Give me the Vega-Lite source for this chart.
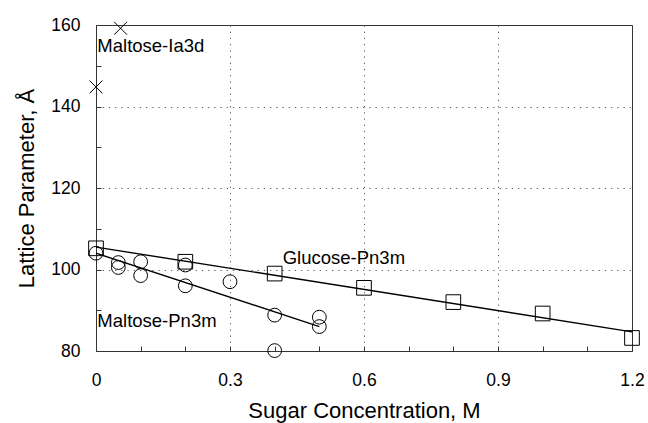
{
  "$schema": "https://vega.github.io/schema/vega-lite/v6.json",
  "width": 536,
  "height": 326,
  "autosize": "none",
  "padding": {"left": 96, "top": 25, "right": 16, "bottom": 72},
  "background": "white",
  "config": {
    "view": {"stroke": "#333", "strokeWidth": 1},
    "font": "Liberation Sans",
    "axis": {
      "labelFont": "Liberation Sans",
      "titleFont": "Liberation Sans",
      "labelFontSize": 17.5,
      "titleFontSize": 22,
      "titleFontWeight": "normal",
      "labelColor": "black",
      "titleColor": "black",
      "domainColor": "#333",
      "tickColor": "#333",
      "gridColor": "#555",
      "gridDash": [1.2, 5],
      "gridWidth": 1
    }
  },
  "datasets": {
    "points": [
      {"series": "Glucose-Pn3m", "conc": 0.0, "lattice": 105.2},
      {"series": "Glucose-Pn3m", "conc": 0.2, "lattice": 101.9},
      {"series": "Glucose-Pn3m", "conc": 0.4, "lattice": 99.0},
      {"series": "Glucose-Pn3m", "conc": 0.6, "lattice": 95.5},
      {"series": "Glucose-Pn3m", "conc": 0.8, "lattice": 92.0},
      {"series": "Glucose-Pn3m", "conc": 1.0, "lattice": 89.2},
      {"series": "Glucose-Pn3m", "conc": 1.2, "lattice": 83.2},
      {"series": "Maltose-Pn3m", "conc": 0.0, "lattice": 104.0},
      {"series": "Maltose-Pn3m", "conc": 0.05, "lattice": 101.7},
      {"series": "Maltose-Pn3m", "conc": 0.05, "lattice": 100.5},
      {"series": "Maltose-Pn3m", "conc": 0.1, "lattice": 101.9},
      {"series": "Maltose-Pn3m", "conc": 0.1, "lattice": 98.5},
      {"series": "Maltose-Pn3m", "conc": 0.2, "lattice": 101.1},
      {"series": "Maltose-Pn3m", "conc": 0.2, "lattice": 96.0},
      {"series": "Maltose-Pn3m", "conc": 0.3, "lattice": 97.0},
      {"series": "Maltose-Pn3m", "conc": 0.4, "lattice": 88.8},
      {"series": "Maltose-Pn3m", "conc": 0.5, "lattice": 88.3},
      {"series": "Maltose-Pn3m", "conc": 0.5, "lattice": 86.0},
      {"series": "Maltose-Pn3m", "conc": 0.4, "lattice": 80.1},
      {"series": "Maltose-Ia3d", "conc": 0.0, "lattice": 144.8},
      {"series": "Maltose-Ia3d", "conc": 0.055, "lattice": 159.2}
    ],
    "fits": [
      {"series": "Glucose-Pn3m", "conc": 0.0, "lattice": 105.5},
      {"series": "Glucose-Pn3m", "conc": 1.2, "lattice": 84.7},
      {"series": "Maltose-Pn3m", "conc": 0.0, "lattice": 104.0},
      {"series": "Maltose-Pn3m", "conc": 0.5, "lattice": 86.0}
    ],
    "labels": [
      {"text": "Maltose-Ia3d", "conc": 0.003, "lattice": 154.9},
      {"text": "Glucose-Pn3m", "conc": 0.418, "lattice": 102.8},
      {"text": "Maltose-Pn3m", "conc": 0.003, "lattice": 87.4}
    ]
  },
  "encoding": {
    "x": {
      "field": "conc",
      "type": "quantitative",
      "scale": {"domain": [0, 1.2], "nice": false, "zero": false},
      "axis": {
        "title": "Sugar Concentration, M",
        "values": [0, 0.1, 0.2, 0.3, 0.4, 0.5, 0.6, 0.7, 0.8, 0.9, 1.0, 1.1, 1.2],
        "labelExpr": "round(datum.value*10)%3===0 ? format(datum.value,'~g') : ''",
        "grid": true,
        "gridOpacity": {"condition": {"test": "round(datum.value*10)%3===0 && datum.value>0.01 && datum.value<1.19", "value": 1}, "value": 0},
        "tickSize": -5,
        "labelPadding": 25,
        "titlePadding": 12,
        "labelFlush": false
      }
    },
    "y": {
      "field": "lattice",
      "type": "quantitative",
      "scale": {"domain": [80, 160], "nice": false, "zero": false},
      "axis": {
        "title": "Lattice Parameter, Å",
        "values": [80, 90, 100, 110, 120, 130, 140, 150, 160],
        "labelExpr": "datum.value%20===0 ? datum.label : ''",
        "grid": true,
        "gridOpacity": {"condition": {"test": "datum.value===100 || datum.value===120 || datum.value===140", "value": 1}, "value": 0},
        "tickSize": -5,
        "labelPadding": 21,
        "titlePadding": 12,
        "labelFlush": false
      }
    }
  },
  "layer": [
    {
      "data": {"name": "fits"},
      "mark": {"type": "line", "color": "black", "strokeWidth": 1.4},
      "encoding": {"detail": {"field": "series"}}
    },
    {
      "data": {"name": "points"},
      "mark": {"type": "point", "filled": false, "color": "black", "strokeWidth": 1, "opacity": 1},
      "encoding": {
        "shape": {
          "field": "series",
          "type": "nominal",
          "scale": {"domain": ["Glucose-Pn3m", "Maltose-Pn3m", "Maltose-Ia3d"], "range": ["square", "circle", "M-1,-1L1,1M1,-1L-1,1"]},
          "legend": null
        },
        "size": {
          "field": "series",
          "type": "nominal",
          "scale": {"domain": ["Glucose-Pn3m", "Maltose-Pn3m", "Maltose-Ia3d"], "range": [215, 165, 270]},
          "legend": null
        }
      }
    },
    {
      "data": {"name": "labels"},
      "mark": {"type": "text", "align": "left", "baseline": "middle", "font": "Liberation Sans", "fontSize": 18.5, "color": "black"},
      "encoding": {"text": {"field": "text"}}
    }
  ]
}
